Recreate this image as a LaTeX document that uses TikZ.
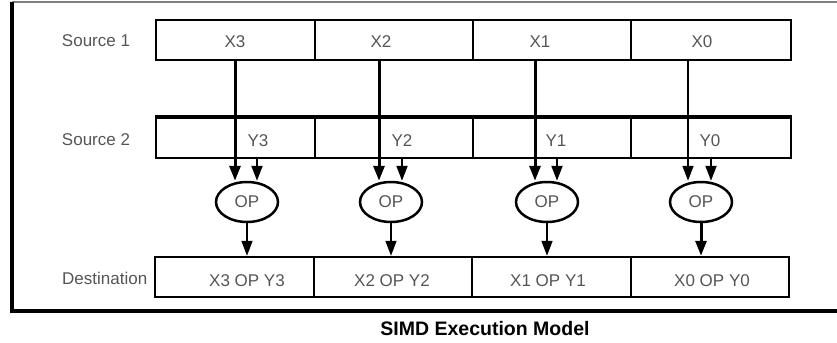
\documentclass[tikz,border=0pt]{standalone}
\usepackage{fontspec}
\setmainfont{Liberation Sans}
\usetikzlibrary{arrows.meta,shapes.geometric}
\definecolor{txtgray}{RGB}{85,85,85}
\begin{document}
\begin{tikzpicture}[x=1bp,y=-1bp,
  cell/.style={draw=black,line width=2.5bp,minimum height=40bp,inner sep=0pt},
  lab/.style={text=txtgray,font=\fontsize{17bp}{20bp}\selectfont,inner sep=0pt},
  captionstyle/.style={text=black,font=\fontsize{19.5bp}{22bp}\selectfont\bfseries,inner sep=0pt},
  opnode/.style={draw=black,ellipse,line width=2.5bp,minimum width=62bp,minimum height=40bp,inner sep=0pt,text=txtgray,font=\fontsize{17bp}{20bp}\selectfont},
  arrtip/.style={-{Triangle[length=15bp,width=11bp]}},
  xline/.style={arrtip,line width=3bp},
  xthin/.style={arrtip,line width=1.6bp},
  yline/.style={arrtip,line width=2bp},
]
\useasboundingbox (0,0) rectangle (837,342);
% frame
\draw[gray,line width=1.5bp] (837,2) -- (12,2);
\draw[black,line width=3.5bp] (12,2) -- (12,311) -- (837,311);

% row labels
\node[lab] (l1) at (96,41) {Source 1};
\node[lab] (l2) at (96,140) {Source 2};
\node[lab,anchor=west] (l3) at (62,278) {Destination};

% Source 1 cells
\node[cell,minimum width=159bp] (s1c3) at (235.5,40) {};
\node[cell,minimum width=158bp] (s1c2) at (394,40) {};
\node[cell,minimum width=158bp] (s1c1) at (552,40) {};
\node[cell,minimum width=160bp] (s1c0) at (711,40) {};
% Source 2 cells
\node[cell,minimum width=159bp] (s2c3) at (235.5,138) {};
\node[cell,minimum width=158bp] (s2c2) at (394,138) {};
\node[cell,minimum width=158bp] (s2c1) at (552,138) {};
\node[cell,minimum width=160bp] (s2c0) at (711,138) {};
\draw[line width=4bp] (s2c3.north west) -- (s2c0.north east);
% Destination cells
\node[cell,minimum width=159bp] (d3) at (234.5,277) {};
\node[cell,minimum width=158bp] (d2) at (393,277) {};
\node[cell,minimum width=159bp] (d1) at (551.5,277) {};
\node[cell,minimum width=158bp] (d0) at (710,277) {};

% cell texts
\node[lab] (tx3) at (235,42) {X3};
\node[lab] (tx2) at (381,42) {X2};
\node[lab] (tx1) at (540,42) {X1};
\node[lab] (tx0) at (702,42) {X0};
\node[lab] (ty3) at (258,141) {Y3};
\node[lab] (ty2) at (402,141) {Y2};
\node[lab] (ty1) at (556,141) {Y1};
\node[lab] (ty0) at (710,141) {Y0};
\node[lab] (td3) at (247,281) {X3 OP Y3};
\node[lab] (td2) at (392,281) {X2 OP Y2};
\node[lab] (td1) at (548,281) {X1 OP Y1};
\node[lab] (td0) at (712,281) {X0 OP Y0};

% operations
\node[opnode] (op3) at (247,202) {OP};
\node[opnode] (op2) at (391,202) {OP};
\node[opnode] (op1) at (547,202) {OP};
\node[opnode] (op0) at (701,202) {OP};

% arrow columns
\coordinate (xa3) at (235,0); \coordinate (ya3) at (257,0);
\coordinate (xa2) at (379,0); \coordinate (ya2) at (402,0);
\coordinate (xa1) at (535,0); \coordinate (ya1) at (557,0);
\coordinate (xa0) at (688,0); \coordinate (ya0) at (711,0);

\draw[xline] (s1c3.south -| xa3) -- (op3.north -| xa3);
\draw[xline] (s1c2.south -| xa2) -- (op2.north -| xa2);
\draw[xline] (s1c1.south -| xa1) -- (op1.north -| xa1);
\draw[xthin] (s1c0.south -| xa0) -- (op0.north -| xa0);

\draw[yline] (s2c3.south -| ya3) -- (op3.north -| ya3);
\draw[yline] (s2c2.south -| ya2) -- (op2.north -| ya2);
\draw[yline] (s2c1.south -| ya1) -- (op1.north -| ya1);
\draw[yline] (s2c0.south -| ya0) -- (op0.north -| ya0);

\draw[xthin] (op3.south) -- (op3.south |- d3.north);
\draw[xthin] (op2.south) -- (op2.south |- d2.north);
\draw[xthin] (op1.south) -- (op1.south |- d1.north);
\draw[xline] (op0.south) -- (op0.south |- d0.north);

% caption
\node[captionstyle] (caption) at (485,329) {SIMD Execution Model};
\end{tikzpicture}
\end{document}
